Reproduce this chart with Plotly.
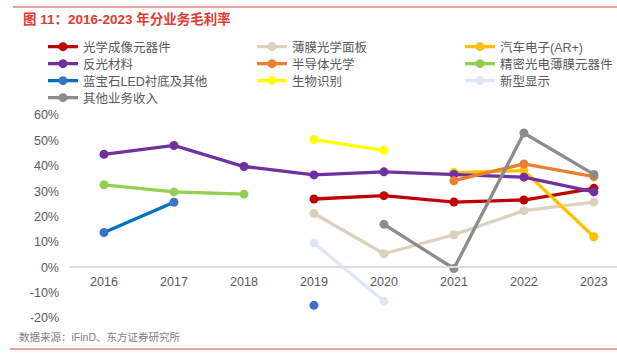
import plotly.graph_objects as go

years = ["2016", "2017", "2018", "2019", "2020", "2021", "2022", "2023"]

optical_imaging = [None, None, None, 26.9, 28.2, 25.7, 26.5, 31.1]
thin_film_panel = [None, None, None, 21.2, 5.3, 12.8, 22.3, 25.7]
auto_electronics = [None, None, None, None, None, 37.3, 38.1, 12.0]
reflective = [44.5, 48.0, 39.7, 36.4, 37.6, 36.6, 35.5, 29.7]
semiconductor = [None, None, None, None, None, 34.1, 40.7, 35.7]
precision_film = [32.5, 29.7, 28.8, None, None, None, None, None]
sapphire = [13.7, 25.6, None, -15.0, None, None, None, None]
biometric = [None, None, None, 50.3, 46.1, None, None, None]
new_display = [None, None, None, 9.6, -13.4, None, None, None]
other_business = [None, None, None, None, 16.9, -0.5, 52.9, 36.6]

series_names = ["光学成像元器件", "薄膜光学面板", "汽车电子(AR+)", "反光材料", "半导体光学",
                "精密光电薄膜元器件", "蓝宝石LED衬底及其他", "生物识别", "新型显示", "其他业务收入"]
series_values = [optical_imaging, thin_film_panel, auto_electronics, reflective, semiconductor,
                 precision_film, sapphire, biometric, new_display, other_business]
line_colors = ["#C00000", "#DDD1BC", "#FFC000", "#7030A0", "#ED7D31",
               "#92D050", "#0070C0", "#FFFF00", "#DCE8F5", "#8C8C8C"]
marker_colors = ["#C00000", "#DDD1BC", "#FFC000", "#7030A0", "#ED7D31",
                 "#92D050", "#3F72C4", "#FFFF00", "#DCE8F5", "#8C8C8C"]

y_tick_vals = [-20, -10, 0, 10, 20, 30, 40, 50, 60]
y_tick_text = ["-20%", "-10%", "0%", "10%", "20%", "30%", "40%", "50%", "60%"]

W, H = 617, 362
ML, MR, MT, MB = 69, 0, 115, 44
y_min, y_max = -20, 60
plot_w = W - ML - MR
plot_h = H - MT - MB

# legend grid (3 columns, row-major), pixel positions of each entry's box
legend_col_px = [43, 252, 460]
legend_row_top_px = [32, 49, 66, 83]

FONT = "Arial, Liberation Sans, Noto Sans CJK SC"

fig = go.Figure()
legend_layouts = {}
for i, (name, vals, lc, mc) in enumerate(zip(series_names, series_values, line_colors, marker_colors)):
    lid = "legend" if i == 0 else f"legend{i + 1}"
    fig.add_trace(go.Scatter(
        x=years, y=vals, name=name, mode="lines+markers",
        line=dict(color=lc, width=3.3),
        marker=dict(color=mc, size=9),
        connectgaps=False, legend=lid,
    ))
    col, row = i % 3, i // 3
    legend_layouts[lid] = dict(
        orientation="h",
        x=(legend_col_px[col] - ML) / plot_w, xanchor="left",
        y=1 + (MT - legend_row_top_px[row]) / plot_h, yanchor="top",
        font=dict(size=12.5, color="#595959", family=FONT),
        itemwidth=30, bgcolor="rgba(0,0,0,0)",
    )

zero_pos = (0 - y_min) / (y_max - y_min)

fig.update_layout(
    width=W, height=H,
    margin=dict(l=ML, r=MR, t=MT, b=MB, autoexpand=False),
    paper_bgcolor="white", plot_bgcolor="white",
    font=dict(family=FONT, color="#595959", size=12),
    showlegend=True,
    xaxis=dict(
        type="category", range=[-0.5, 7.33],
        anchor="free", position=zero_pos, automargin=False,
        showline=True, linecolor="#DEDEDE", linewidth=2,
        showgrid=False, zeroline=False, ticks="",
        ticklabelstandoff=3,
        tickfont=dict(size=12.5, color="#595959"),
    ),
    yaxis=dict(
        range=[y_min, y_max], tickvals=y_tick_vals, ticktext=y_tick_text,
        showgrid=False, zeroline=False, showline=False, ticks="", automargin=False,
        ticklabelstandoff=9,
        tickfont=dict(size=12.5, color="#595959"),
    ),
    **legend_layouts,
)

fig.add_annotation(
    text="图 11：2016-2023 年分业务毛利率", xref="paper", yref="paper",
    x=(21 - ML) / plot_w, y=1 + (MT - 19) / plot_h, xanchor="left", yanchor="middle",
    showarrow=False, font=dict(size=13.5, color="#E03C31", family=FONT, weight="bold"),
)
fig.add_annotation(
    text="数据来源：iFinD、东方证券研究所", xref="paper", yref="paper",
    x=(17 - ML) / plot_w, y=-(337 - (H - MB)) / plot_h, xanchor="left", yanchor="middle",
    showarrow=False, font=dict(size=10.5, color="#7F7F7F", family=FONT),
)
fig.add_shape(type="line", xref="paper", yref="paper",
              x0=(13 - ML) / plot_w, x1=1, y0=1 + (MT - 7) / plot_h, y1=1 + (MT - 7) / plot_h,
              line=dict(color="#E8817C", width=1.5))
fig.add_shape(type="line", xref="paper", yref="paper",
              x0=(10 - ML) / plot_w, x1=1, y0=-(349 - (H - MB)) / plot_h, y1=-(349 - (H - MB)) / plot_h,
              line=dict(color="#E8817C", width=1.5))

fig.write_html("out.html", config={"displayModeBar": False},
               post_script="document.body.style.margin='0';")
